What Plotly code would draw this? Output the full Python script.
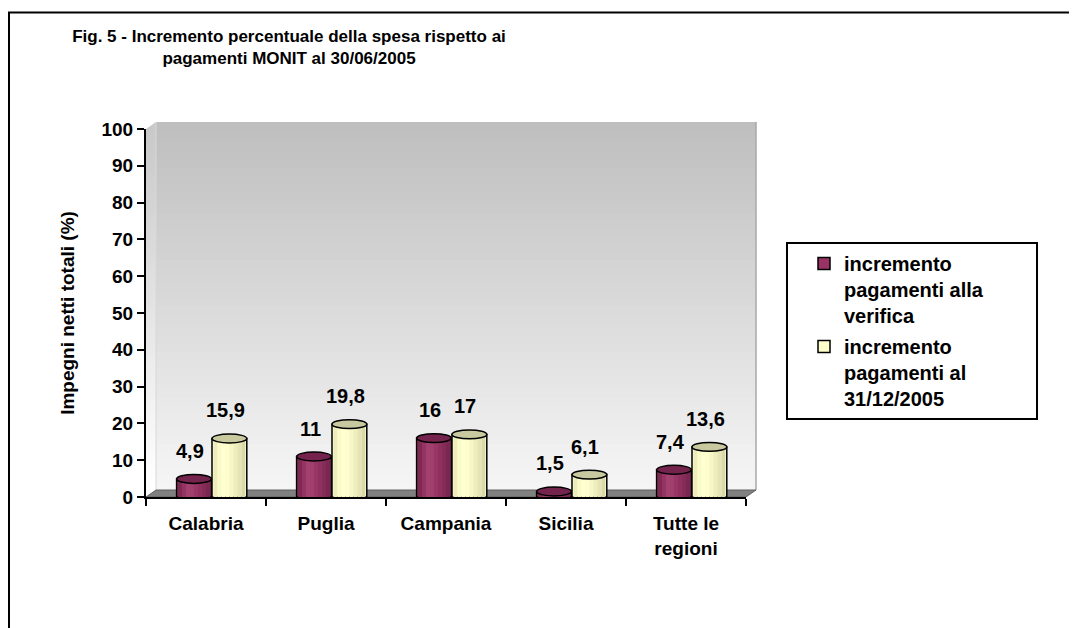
import plotly.graph_objects as go

# ---------------- data ----------------
categories = ["Calabria", "Puglia", "Campania", "Sicilia", "Tutte le<br>regioni"]
verifica = [4.9, 11, 16, 1.5, 7.4]
al_31_12 = [15.9, 19.8, 17, 6.1, 13.6]
series_names = ["incremento<br>pagamenti alla<br>verifica",
                "incremento<br>pagamenti al<br>31/12/2005"]
y_ticks = [0, 10, 20, 30, 40, 50, 60, 70, 80, 90, 100]
title_text = ("Fig. 5 - Incremento percentuale della spesa rispetto ai<br>"
              "pagamenti MONIT al 30/06/2005")
y_title = "Impegni netti totali (%)"

# ---------------- styles ----------------
# the page body adds an 8px margin, so the figure is 8px smaller than the window
W, H = 1069, 620
PL, PR, PT, PB = 138, 738, 121, 489          # plot area in figure px
FONT = "Liberation Sans, Arial, sans-serif"

def px_x(p):   # figure pixel -> paper x
    return (p - PL) / (PR - PL)

def px_y(p):   # figure pixel -> paper y
    return (PB - p) / (PB - PT)

DX = 10 / (PR - PL)        # 3D depth offset (paper)
DY = 7 / (PB - PT)

series_styles = [
    dict(start=-0.245, width=0.29, main="#993366", top="#74234c",
         strips=["#7e2a55", "#943462", "#a2406f", "#a03e6c", "#983766",
                 "#8f315f", "#852c59", "#7a2752"]),
    dict(start=0.05, width=0.29, main="#ffffcc", top="#c9c9a0",
         strips=["#ececbc", "#fafac8", "#ffffd2", "#fdfdcd", "#f6f6c6",
                 "#ededbe", "#e4e4b5", "#d9d9ac"]),
]
INSET = 0.012
RY = 1.2   # half-height of the top ellipse, in y units

fig = go.Figure()
shapes = []
annotations = []

series_values = [verifica, al_31_12]
idx = list(range(len(categories)))

for s, (vals, name, st) in enumerate(zip(series_values, series_names, series_styles)):
    centers = [i + st["start"] + st["width"] / 2 for i in idx]
    # base bar (also provides legend entry)
    fig.add_trace(go.Bar(
        x=centers, y=vals, width=st["width"], name=name,
        marker=dict(color=st["main"], line=dict(color="black", width=1.5)),
        hoverinfo="skip", legendgroup=f"g{s}",
    ))
    # cylinder shading strips
    n = len(st["strips"])
    sw = (st["width"] - 2 * INSET) / n
    for k, col in enumerate(st["strips"]):
        xs = [i + st["start"] + INSET + (k + 0.5) * sw for i in idx]
        fig.add_trace(go.Bar(
            x=xs, y=vals, width=sw, showlegend=False, hoverinfo="skip",
            marker=dict(color=col, line=dict(width=0)),
        ))
    # top ellipses + value labels
    for c, v in zip(centers, vals):
        shapes.append(dict(
            type="circle", xref="x", yref="y", layer="above",
            x0=c - st["width"] / 2, x1=c + st["width"] / 2,
            y0=v - RY, y1=v + RY,
            fillcolor=st["top"], line=dict(color="black", width=1.5),
        ))
        annotations.append(dict(
            x=c, y=v, xref="x", yref="y", showarrow=False,
            text=f"{v:g}".replace(".", ","), xshift=-4, yshift=28,
            font=dict(family=FONT, size=20, color="black", weight="bold"),
        ))

# ---------------- 3D walls / floor (decoration, paper coords) ----------------
NB = 48
top_rgb, bot_rgb = (190, 190, 190), (246, 246, 246)
for b in range(NB):
    t0, t1 = b / NB, (b + 1) / NB
    f = (b + 0.5) / NB
    r = [round(bot_rgb[j] + (top_rgb[j] - bot_rgb[j]) * f) for j in range(3)]
    col = f"rgb({r[0]},{r[1]},{r[2]})"
    ov = 0.004 if b < NB - 1 else 0
    shapes.append(dict(type="rect", xref="paper", yref="paper", layer="below",
                       x0=DX, x1=1 + DX, y0=DY + t0, y1=DY + t1 + ov,
                       fillcolor=col, line=dict(width=0)))
    rl = [min(255, c + 10) for c in r]
    coll = f"rgb({rl[0]},{rl[1]},{rl[2]})"
    shapes.append(dict(type="path", xref="paper", yref="paper", layer="below",
                       path=(f"M0,{t0} L{DX},{DY + t0} L{DX},{DY + t1 + ov} "
                             f"L0,{t1 + ov} Z"),
                       fillcolor=coll, line=dict(width=0)))
shapes.append(dict(type="line", xref="paper", yref="paper", layer="below",
                   x0=1 + DX, x1=1 + DX, y0=DY, y1=1 + DY,
                   line=dict(color="#a8a8a8", width=1.5)))
shapes.append(dict(type="line", xref="paper", yref="paper", layer="below",
                   x0=DX, x1=DX, y0=DY, y1=1 + DY,
                   line=dict(color="#d8d8d8", width=1)))
shapes.append(dict(type="path", xref="paper", yref="paper", layer="below",
                   path=f"M0,0 L1,0 L{1 + DX},{DY} L{DX},{DY} Z",
                   fillcolor="#808080", line=dict(color="#606060", width=1)))

# legend frame
shapes.append(dict(type="rect", xref="paper", yref="paper", layer="above",
                   x0=px_x(779), x1=px_x(1029), y0=px_y(411), y1=px_y(235),
                   line=dict(color="black", width=2), fillcolor="rgba(0,0,0,0)"))
# outer chart frame
shapes.append(dict(type="rect", xref="paper", yref="paper", layer="above",
                   x0=px_x(1), x1=px_x(W + 20), y0=px_y(H + 20), y1=px_y(4.5),
                   line=dict(color="black", width=2), fillcolor="rgba(0,0,0,0)"))

fig.update_layout(
    width=W, height=H,
    margin=dict(l=PL, r=W - PR, t=PT, b=H - PB),
    paper_bgcolor="white", plot_bgcolor="rgba(0,0,0,0)",
    barmode="overlay",
    shapes=shapes, annotations=annotations,
    font=dict(family=FONT, color="black"),
    title=dict(text=title_text, x=281 / W, xref="container", xanchor="center",
               y=1 - 34 / H, yref="container", yanchor="top",
               font=dict(family=FONT, size=17, color="black", weight="bold")),
    legend=dict(x=px_x(796), y=px_y(236), xanchor="left", yanchor="top",
                bgcolor="rgba(0,0,0,0)", borderwidth=0, valign="top",
                tracegroupgap=2,
                font=dict(family=FONT, size=20, color="black", weight="bold")),
    showlegend=True,
)
fig.update_xaxes(
    range=[-0.5, 4.5], tickmode="array", tickvals=idx, ticktext=categories,
    ticks="", showline=True, linecolor="black", linewidth=2,
    showgrid=False, zeroline=False, ticklabelstandoff=8,
    tickfont=dict(family=FONT, size=19, color="black", weight="bold"),
    minor=dict(ticks="outside", tickmode="array",
               tickvals=[i - 0.5 for i in range(len(categories) + 1)],
               ticklen=7, tickwidth=2, tickcolor="black"),
)
fig.update_yaxes(
    range=[0, 100], tickmode="array", tickvals=y_ticks,
    ticks="outside", ticklen=7, tickwidth=2, tickcolor="black",
    showline=True, linecolor="black", linewidth=2,
    showgrid=False, zeroline=False,
    tickfont=dict(family=FONT, size=19, color="black", weight="bold"),
    title=dict(text=y_title, standoff=22,
               font=dict(family=FONT, size=19, color="black", weight="bold")),
)

fig.write_html("out.html")
